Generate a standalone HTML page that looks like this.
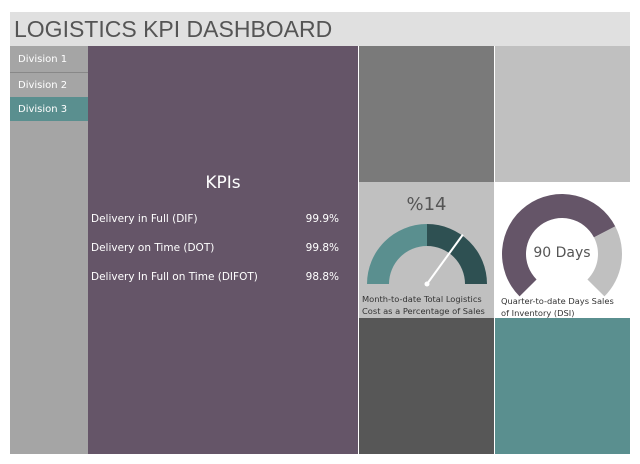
<!DOCTYPE html>
<html><head><meta charset="utf-8"><style>
body{margin:0;width:640px;height:464px;background:#fff;position:relative;overflow:hidden;font-family:"DejaVu Sans","Liberation Sans",sans-serif}
div{position:absolute;box-sizing:border-box}
.tab{left:10px;width:78px;height:24px;color:#fff;font-size:10px;padding:7px 0 0 8px}
.kpi{left:91px;width:250px;color:#fff;font-size:10.5px}
.kpi span{position:absolute;right:2px}
</style></head><body>
<div style="left:10px;top:12px;width:620px;height:34px;background:#e0e0e0;color:#555;font-family:'Liberation Sans',sans-serif;font-size:23px;padding:4px 0 0 4px">LOGISTICS KPI DASHBOARD</div>
<div style="left:10px;top:46px;width:78px;height:408px;background:#a5a5a5"></div>
<div class="tab" style="top:47px;background:#a5a5a5">Division 1</div>
<div class="tab" style="top:72px;background:#a5a5a5;border-top:1px solid #888">Division 2</div>
<div class="tab" style="top:97px;background:#5a8f8f">Division 3</div>
<div style="left:88px;top:46px;width:270px;height:408px;background:#655568"></div>
<div style="left:88px;top:173px;width:270px;text-align:center;color:#fff;font-size:17px">KPIs</div>
<div class="kpi" style="top:213px">Delivery in Full (DIF)<span>99.9%</span></div>
<div class="kpi" style="top:242px">Delivery on Time (DOT)<span>99.8%</span></div>
<div class="kpi" style="top:271px">Delivery In Full on Time (DIFOT)<span>98.8%</span></div>
<div style="left:359px;top:46px;width:135px;height:136px;background:#7a7a7a"></div>
<div style="left:495px;top:46px;width:135px;height:136px;background:#c0c0c0"></div>
<div style="left:359px;top:182px;width:135px;height:136px;background:#c0c0c0"></div>
<div style="left:495px;top:182px;width:135px;height:136px;background:#fff"></div>
<div style="left:359px;top:318px;width:135px;height:136px;background:#575757"></div>
<div style="left:495px;top:318px;width:135px;height:136px;background:#5a8f8f"></div>
<div style="left:359px;top:194px;width:135px;text-align:center;color:#555;font-size:18px">%14</div>
<div style="left:362px;top:293px;width:132px;color:#333;font-size:8.3px;line-height:12px">Month-to-date Total Logistics Cost as a Percentage of Sales</div>
<div style="left:500px;top:245px;width:124px;text-align:center;color:#555;font-size:14px">90 Days</div>
<div style="left:501px;top:295px;width:118px;color:#333;font-size:8.3px;line-height:12px">Quarter-to-date Days Sales of Inventory (DSI)</div>
<svg id="svg" width="640" height="464" style="position:absolute;left:0;top:0"></svg>
<script>
const gaugeBands=[10,10];
const gaugeColors=["#5a8f8f","#2e5052"];
const gaugeMax=20;
const gaugeValue=14;
const dsiValues=[90,33];
const dsiColors=["#655568","#c0c0c0"];
const NS="http://www.w3.org/2000/svg";
const svg=document.getElementById('svg');
function arcPath(cx,cy,r0,r1,a0,a1){
 const p=(r,a)=>[cx+r*Math.cos(a),cy-r*Math.sin(a)];
 const large=Math.abs(a1-a0)>Math.PI?1:0;
 const [x1,y1]=p(r1,a0),[x2,y2]=p(r1,a1),[x3,y3]=p(r0,a1),[x4,y4]=p(r0,a0);
 const sw=a1<a0?1:0;
 return `M${x1},${y1}A${r1},${r1} 0 ${large} ${sw} ${x2},${y2}L${x3},${y3}A${r0},${r0} 0 ${large} ${1-sw} ${x4},${y4}Z`;
}
const gcx=427,gcy=284;
const gAng=v=>Math.PI*(1-v/gaugeMax);
let acc=0;
gaugeBands.forEach((b,i)=>{
 const el=document.createElementNS(NS,'path');
 el.setAttribute('d',arcPath(gcx,gcy,38,60,gAng(acc),gAng(acc+b)));
 el.setAttribute('fill',gaugeColors[i]);
 
 
 svg.appendChild(el);acc+=b;
});
const na=gAng(gaugeValue);
const nd=document.createElementNS(NS,'line');
nd.setAttribute('x1',gcx);nd.setAttribute('y1',gcy);
nd.setAttribute('x2',gcx+61*Math.cos(na));nd.setAttribute('y2',gcy-61*Math.sin(na));
nd.setAttribute('stroke','#fff');nd.setAttribute('stroke-width','2');


svg.appendChild(nd);
const hub=document.createElementNS(NS,'circle');
hub.setAttribute('cx',gcx);hub.setAttribute('cy',gcy);hub.setAttribute('r',2.5);hub.setAttribute('fill','#fff');


svg.appendChild(hub);
const dcx=562,dcy=254;
const total=dsiValues.reduce((a,b)=>a+b,0);
const start=Math.PI*1.25, sweep=Math.PI*1.5;
let dacc=0;
dsiValues.forEach((v,i)=>{
 const a0=start-sweep*dacc/total,a1=start-sweep*(dacc+v)/total;
 const el=document.createElementNS(NS,'path');
 el.setAttribute('d',arcPath(dcx,dcy,36,60,a0,a1));
 el.setAttribute('fill',dsiColors[i]);
 
 
 svg.appendChild(el);dacc+=v;
});
</script>
</body></html>
